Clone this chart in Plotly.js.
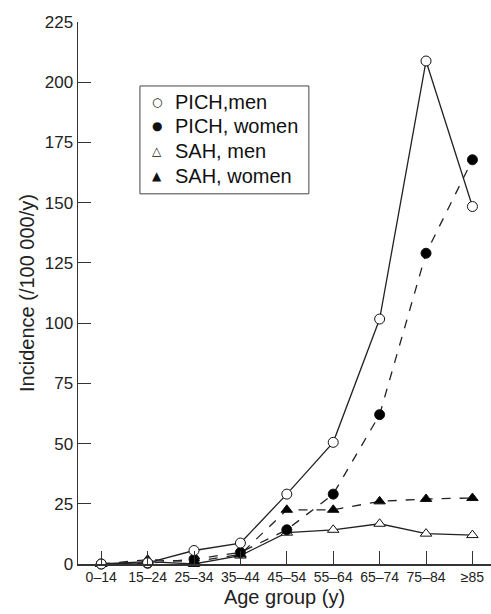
<!DOCTYPE html>
<html>
<head>
<meta charset="utf-8">
<script src="https://cdn.plot.ly/plotly-3.0.1.min.js"></script>
<style>html,body{margin:0;padding:0;background:#fff}#chart{width:491px;height:614px}</style>
</head>
<body>
<div id="chart"></div>
<script>
var ageGroups = ["0\u201314","15\u201324","25\u201334","35\u201344","45\u201354","55\u201364","65\u201374","75\u201384","\u226585"];
var pichMen   = [0, 0.5, 5.6, 8.7, 29, 50.5, 101.7, 208.8, 148.4];
var pichWomen = [0, 0.3, 2, 4.8, 14.2, 29, 62, 129, 167.8];
var sahMen    = [0, 1, 0, 3.5, 13, 14.2, 16.7, 12.6, 12];
var sahWomen  = [0, 1.8, 1, 4, 22.5, 22.5, 26, 27, 27.4];
var seriesNames = ["PICH,men", "PICH, women", "SAH, men", "SAH, women"];
var legendSymbols = ["\u25CB", "\u25CF", "\u25B3", "\u25B2"];
var yTicks = [0, 25, 50, 75, 100, 125, 150, 175, 200, 225];

var xIdx = ageGroups.map(function(_, i){ return i; });
var font = "Liberation Sans, Arial, sans-serif";

function tr(name, y, dash, symbol, fill){
  return {name: name, x: xIdx, y: y, type: 'scatter', mode: 'lines+markers', showlegend: false,
    line: {color: '#222', width: 1.3, dash: dash},
    marker: {symbol: symbol, size: 10, color: fill, line: {color: '#111', width: 1}},
    cliponaxis: false};
}
var data = [
  tr(seriesNames[2], sahMen, 'solid', 'triangle-up', '#fff'),
  tr(seriesNames[3], sahWomen, 'dash', 'triangle-up', '#000'),
  tr(seriesNames[1], pichWomen, 'dash', 'circle', '#000'),
  tr(seriesNames[0], pichMen, 'solid', 'circle', '#fff')
];

// legend box (paper coords)
var legX0 = 0.150, legX1 = 0.559, legY0 = 0.683, legY1 = 0.882;
var rowTop = 0.853, rowStep = 0.0457;
var annotations = [];
seriesNames.forEach(function(n, i){
  var yy = rowTop - i * rowStep;
  annotations.push({xref: 'paper', yref: 'paper', x: 0.191, y: yy, xanchor: 'center', yanchor: 'middle',
    showarrow: false, text: legendSymbols[i], font: {size: 12, family: 'DejaVu Sans', color: '#111'}});
  annotations.push({xref: 'paper', yref: 'paper', x: 0.229, y: yy, xanchor: 'left', yanchor: 'middle',
    showarrow: false, text: n, font: {size: 20, family: font, color: '#111'}});
});

var layout = {
  width: 491, height: 614,
  margin: {l: 78, r: 0, t: 22, b: 50},
  paper_bgcolor: '#fff', plot_bgcolor: '#fff',
  font: {family: font, color: '#222'},
  showlegend: false,
  shapes: [{type: 'rect', xref: 'paper', yref: 'paper', x0: legX0, x1: legX1, y0: legY0, y1: legY1,
    line: {color: '#444', width: 1}, fillcolor: '#fff', layer: 'above'}],
  annotations: annotations,
  xaxis: {range: [-0.5, 8.4], tickvals: xIdx, ticktext: ageGroups, showgrid: false, zeroline: false,
    showline: true, linecolor: '#333', linewidth: 1.5, ticks: 'inside', ticklen: 13, tickcolor: '#333',
    tickfont: {size: 14, family: font, color: '#222'},
    title: {text: 'Age group (y)', font: {size: 20, family: font, color: '#222'}, standoff: 5}},
  yaxis: {range: [0, 225], tickvals: yTicks, showgrid: false, zeroline: false,
    showline: true, linecolor: '#333', linewidth: 1.5, ticks: 'inside', ticklen: 13, tickcolor: '#333',
    tickfont: {size: 17, family: font, color: '#222'},
    title: {text: 'Incidence (/100 000/y)', font: {size: 20, family: font, color: '#222'}, standoff: 4}}
};
Plotly.newPlot('chart', data, layout, {displayModeBar: false, staticPlot: true});
</script>
</body>
</html>
